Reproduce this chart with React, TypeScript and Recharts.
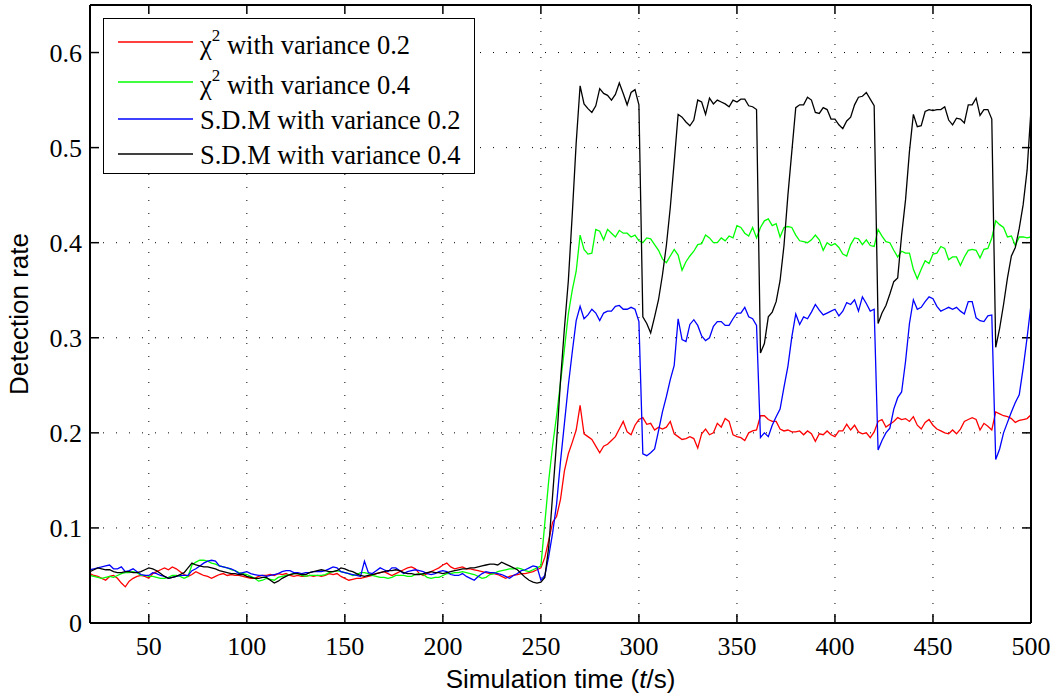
import React from 'react';
import { LineChart, Line, XAxis, YAxis, CartesianGrid, ReferenceLine } from 'recharts';

// time axis: samples every 2 s from 20 to 500
const times: number[] = Array.from({ length: 241 }, (_, i) => 20 + i * 2);

const xTicks = [50, 100, 150, 200, 250, 300, 350, 400, 450, 500];
const yTicks = [0, 0.1, 0.2, 0.3, 0.4, 0.5, 0.6];
const xDomain: [number, number] = [20, 500];
const yDomain: [number, number] = [0, 0.65];

const chiVar02 = [
  0.052, 0.050, 0.049, 0.047, 0.045, 0.049, 0.050, 0.047, 0.042, 0.038,
  0.044, 0.047, 0.049, 0.050, 0.049, 0.047, 0.052, 0.054, 0.056, 0.058,
  0.056, 0.059, 0.057, 0.054, 0.051, 0.049, 0.051, 0.054, 0.052, 0.050,
  0.049, 0.047, 0.049, 0.051, 0.052, 0.050, 0.051, 0.050, 0.050, 0.049,
  0.048, 0.047, 0.047, 0.049, 0.050, 0.050, 0.051, 0.050, 0.052, 0.051,
  0.052, 0.050, 0.049, 0.050, 0.049, 0.049, 0.050, 0.049, 0.050, 0.049,
  0.050, 0.052, 0.051, 0.052, 0.049, 0.047, 0.045, 0.046, 0.047, 0.047,
  0.048, 0.049, 0.050, 0.052, 0.053, 0.054, 0.052, 0.050, 0.052, 0.054,
  0.056, 0.058, 0.059, 0.057, 0.052, 0.050, 0.052, 0.054, 0.056, 0.058,
  0.061, 0.063, 0.059, 0.057, 0.058, 0.059, 0.057, 0.057, 0.056, 0.055,
  0.054, 0.053, 0.052, 0.052, 0.051, 0.049, 0.047, 0.049, 0.050, 0.051,
  0.052, 0.052, 0.053, 0.054, 0.056, 0.058, 0.069, 0.087, 0.106, 0.112,
  0.130, 0.160, 0.178, 0.190, 0.203, 0.229, 0.199, 0.196, 0.193, 0.186,
  0.179, 0.186, 0.188, 0.192, 0.196, 0.204, 0.212, 0.201, 0.198, 0.208,
  0.214, 0.216, 0.209, 0.210, 0.203, 0.206, 0.204, 0.206, 0.212, 0.199,
  0.196, 0.193, 0.194, 0.196, 0.194, 0.184, 0.199, 0.204, 0.198, 0.200,
  0.210, 0.206, 0.215, 0.212, 0.198, 0.196, 0.195, 0.192, 0.200, 0.202,
  0.203, 0.218, 0.218, 0.214, 0.212, 0.212, 0.204, 0.202, 0.203, 0.201,
  0.201, 0.202, 0.198, 0.202, 0.199, 0.191, 0.199, 0.198, 0.202, 0.198,
  0.196, 0.202, 0.202, 0.209, 0.203, 0.208, 0.201, 0.199, 0.200, 0.195,
  0.201, 0.212, 0.214, 0.206, 0.209, 0.212, 0.216, 0.214, 0.215, 0.212,
  0.217, 0.208, 0.204, 0.211, 0.214, 0.208, 0.204, 0.202, 0.200, 0.199,
  0.203, 0.199, 0.204, 0.212, 0.214, 0.216, 0.214, 0.203, 0.210, 0.207,
  0.203, 0.222, 0.220, 0.218, 0.217, 0.215, 0.211, 0.213, 0.214, 0.215,
  0.219,
];

const chiVar04 = [
  0.050, 0.049, 0.048, 0.047, 0.048, 0.049, 0.048, 0.050, 0.052, 0.053,
  0.053, 0.054, 0.053, 0.050, 0.050, 0.049, 0.049, 0.048, 0.047, 0.047,
  0.048, 0.050, 0.050, 0.049, 0.047, 0.049, 0.061, 0.064, 0.066, 0.066,
  0.065, 0.063, 0.062, 0.060, 0.059, 0.058, 0.056, 0.055, 0.053, 0.052,
  0.051, 0.049, 0.047, 0.044, 0.045, 0.047, 0.046, 0.045, 0.048, 0.049,
  0.050, 0.051, 0.052, 0.052, 0.050, 0.049, 0.050, 0.050, 0.050, 0.050,
  0.051, 0.053, 0.054, 0.055, 0.054, 0.053, 0.052, 0.050, 0.051, 0.053,
  0.053, 0.052, 0.050, 0.049, 0.048, 0.048, 0.047, 0.048, 0.050, 0.050,
  0.050, 0.049, 0.049, 0.051, 0.052, 0.051, 0.048, 0.047, 0.048, 0.048,
  0.050, 0.052, 0.052, 0.053, 0.053, 0.054, 0.053, 0.052, 0.051, 0.049,
  0.047, 0.048, 0.051, 0.052, 0.054, 0.055, 0.056, 0.057, 0.057, 0.058,
  0.057, 0.055, 0.054, 0.056, 0.058, 0.060, 0.105, 0.150, 0.187, 0.218,
  0.253, 0.288, 0.325, 0.350, 0.370, 0.408, 0.393, 0.388, 0.389, 0.414,
  0.412, 0.403, 0.414, 0.410, 0.406, 0.413, 0.410, 0.410, 0.406, 0.408,
  0.402, 0.400, 0.405, 0.404, 0.398, 0.392, 0.383, 0.379, 0.386, 0.393,
  0.387, 0.371, 0.380, 0.386, 0.391, 0.398, 0.399, 0.408, 0.405, 0.400,
  0.400, 0.405, 0.402, 0.407, 0.405, 0.418, 0.416, 0.410, 0.407, 0.416,
  0.405, 0.416, 0.423, 0.425, 0.418, 0.420, 0.406, 0.416, 0.417, 0.416,
  0.408, 0.402, 0.401, 0.400, 0.403, 0.408, 0.403, 0.392, 0.400, 0.397,
  0.399, 0.395, 0.388, 0.386, 0.398, 0.405, 0.404, 0.398, 0.403, 0.397,
  0.396, 0.414, 0.407, 0.401, 0.400, 0.392, 0.385, 0.391, 0.389, 0.389,
  0.372, 0.362, 0.372, 0.381, 0.378, 0.388, 0.389, 0.396, 0.394, 0.382,
  0.385, 0.385, 0.376, 0.385, 0.392, 0.393, 0.392, 0.384, 0.393, 0.394,
  0.405, 0.423, 0.419, 0.416, 0.406, 0.407, 0.397, 0.406, 0.406, 0.405,
  0.406,
];

const sdmVar02 = [
  0.056, 0.057, 0.058, 0.059, 0.060, 0.061, 0.057, 0.057, 0.059, 0.054,
  0.055, 0.057, 0.054, 0.051, 0.050, 0.050, 0.053, 0.052, 0.050, 0.049,
  0.047, 0.048, 0.049, 0.050, 0.050, 0.050, 0.055, 0.057, 0.060, 0.063,
  0.065, 0.066, 0.065, 0.060, 0.059, 0.058, 0.057, 0.055, 0.052, 0.053,
  0.054, 0.052, 0.051, 0.050, 0.050, 0.049, 0.050, 0.051, 0.052, 0.054,
  0.055, 0.055, 0.053, 0.053, 0.052, 0.053, 0.053, 0.054, 0.054, 0.054,
  0.055, 0.057, 0.059, 0.058, 0.054, 0.053, 0.052, 0.051, 0.050, 0.049,
  0.065, 0.053, 0.052, 0.055, 0.058, 0.056, 0.054, 0.058, 0.058, 0.055,
  0.052, 0.054, 0.055, 0.056, 0.055, 0.054, 0.052, 0.051, 0.052, 0.054,
  0.055, 0.054, 0.051, 0.050, 0.050, 0.052, 0.049, 0.047, 0.045, 0.049,
  0.052, 0.054, 0.053, 0.053, 0.052, 0.051, 0.049, 0.047, 0.050, 0.052,
  0.055, 0.056, 0.058, 0.060, 0.059, 0.045, 0.050, 0.070, 0.095, 0.125,
  0.170, 0.210, 0.250, 0.285, 0.318, 0.333, 0.320, 0.324, 0.330, 0.326,
  0.318, 0.326, 0.328, 0.328, 0.333, 0.334, 0.330, 0.330, 0.332, 0.330,
  0.317, 0.178, 0.176, 0.179, 0.183, 0.202, 0.222, 0.238, 0.256, 0.271,
  0.320, 0.298, 0.296, 0.314, 0.319, 0.313, 0.302, 0.297, 0.300, 0.312,
  0.317, 0.317, 0.313, 0.313, 0.320, 0.326, 0.326, 0.332, 0.322, 0.320,
  0.313, 0.195, 0.200, 0.196, 0.208, 0.217, 0.225, 0.248, 0.270, 0.301,
  0.325, 0.314, 0.322, 0.320, 0.327, 0.335, 0.329, 0.324, 0.326, 0.328,
  0.330, 0.323, 0.328, 0.337, 0.335, 0.340, 0.328, 0.343, 0.336, 0.328,
  0.330, 0.182, 0.192, 0.200, 0.205, 0.225, 0.237, 0.243, 0.275, 0.315,
  0.340, 0.330, 0.332, 0.338, 0.343, 0.341, 0.333, 0.328, 0.330, 0.332,
  0.330, 0.332, 0.328, 0.325, 0.338, 0.338, 0.321, 0.318, 0.317, 0.323,
  0.324, 0.172, 0.183, 0.200, 0.211, 0.222, 0.232, 0.240, 0.268, 0.300,
  0.335,
];

const sdmVar04 = [
  0.054, 0.056, 0.058, 0.057, 0.056, 0.056, 0.054, 0.053, 0.053, 0.054,
  0.054, 0.053, 0.053, 0.054, 0.056, 0.058, 0.057, 0.055, 0.052, 0.049,
  0.047, 0.048, 0.049, 0.051, 0.053, 0.058, 0.063, 0.061, 0.060, 0.059,
  0.059, 0.058, 0.057, 0.055, 0.054, 0.053, 0.052, 0.052, 0.051, 0.051,
  0.049, 0.048, 0.047, 0.047, 0.048, 0.048, 0.045, 0.042, 0.044, 0.047,
  0.049, 0.051, 0.052, 0.052, 0.051, 0.051, 0.053, 0.054, 0.055, 0.056,
  0.055, 0.054, 0.054, 0.055, 0.058, 0.057, 0.055, 0.054, 0.052, 0.050,
  0.049, 0.050, 0.051, 0.052, 0.053, 0.054, 0.055, 0.055, 0.056, 0.055,
  0.053, 0.052, 0.052, 0.051, 0.051, 0.052, 0.053, 0.054, 0.053, 0.053,
  0.052, 0.053, 0.054, 0.055, 0.056, 0.057, 0.057, 0.058, 0.058, 0.059,
  0.060, 0.061, 0.062, 0.062, 0.061, 0.064, 0.062, 0.060, 0.058, 0.056,
  0.052, 0.048, 0.045, 0.043, 0.042, 0.043, 0.048, 0.080, 0.135, 0.190,
  0.255, 0.310, 0.360, 0.430, 0.505, 0.565, 0.546, 0.541, 0.537, 0.544,
  0.562, 0.557, 0.555, 0.550, 0.556, 0.568, 0.557, 0.545, 0.558, 0.561,
  0.545, 0.322, 0.315, 0.305, 0.322, 0.340, 0.366, 0.397, 0.437, 0.485,
  0.535, 0.532, 0.527, 0.523, 0.529, 0.550, 0.548, 0.535, 0.552, 0.546,
  0.550, 0.548, 0.546, 0.543, 0.550, 0.548, 0.551, 0.551, 0.544, 0.543,
  0.540, 0.284, 0.294, 0.322, 0.327, 0.338, 0.360, 0.397, 0.450, 0.496,
  0.542, 0.545, 0.545, 0.553, 0.550, 0.537, 0.536, 0.542, 0.540, 0.530,
  0.530, 0.524, 0.520, 0.528, 0.532, 0.545, 0.553, 0.554, 0.558, 0.551,
  0.544, 0.315, 0.326, 0.334, 0.346, 0.359, 0.363, 0.408, 0.445, 0.496,
  0.535, 0.522, 0.523, 0.538, 0.540, 0.539, 0.540, 0.540, 0.543, 0.529,
  0.524, 0.531, 0.530, 0.526, 0.545, 0.545, 0.552, 0.534, 0.540, 0.540,
  0.530, 0.290, 0.310, 0.335, 0.363, 0.386, 0.395, 0.415, 0.440, 0.476,
  0.540,
];

const seriesNames = ['χ2 with variance 0.2', 'χ2 with variance 0.4', 'S.D.M with variance 0.2', 'S.D.M with variance 0.4'];
const seriesColors = ['#ff0000', '#00ff00', '#0000ff', '#000000'];
const seriesKeys = ['chi02', 'chi04', 'sdm02', 'sdm04'];

const data = times.map((t, i) => ({
  t,
  chi02: chiVar02[i],
  chi04: chiVar04[i],
  sdm02: sdmVar02[i],
  sdm04: sdmVar04[i],
}));

// inward tick length expressed in axis units (about 9 px each)
const xTickLen = 4.6;
const yTickLen = 0.0095;

const SERIF = '"Liberation Serif", "Times New Roman", serif';
const SANS = '"Liberation Sans", Arial, sans-serif';

const renderXTick = (props: any) => {
  const { x, y, payload } = props;
  return (
    <text x={x} y={y + 32} textAnchor="middle" fontFamily="Liberation Serif" style={{ fontFamily: SERIF, fontSize: 26 }} fill="#000">
      {String(payload.value)}
    </text>
  );
};

const renderYTick = (props: any) => {
  const { x, y, payload } = props;
  return (
    <text x={x - 8} y={y + 9} textAnchor="end" fontFamily="Liberation Serif" style={{ fontFamily: SERIF, fontSize: 26 }} fill="#000">
      {String(payload.value)}
    </text>
  );
};

const renderNoTick = () => <g />;

const XLabel = (props: any) => {
  const vb = props.viewBox || {};
  const cx = vb.x + vb.width / 2;
  const y = vb.y + 65;
  return (
    <text x={cx} y={y} textAnchor="middle" style={{ fontFamily: SANS, fontSize: 26 }} fill="#000">
      Simulation time (<tspan fontStyle="italic">t</tspan>/s)
    </text>
  );
};

const YLabel = (props: any) => {
  const vb = props.viewBox || {};
  const x = vb.x + 28;
  const y = vb.y + vb.height / 2;
  return (
    <text x={x} y={y} textAnchor="middle" transform={`rotate(-90, ${x}, ${y})`} style={{ fontFamily: SANS, fontSize: 26 }} fill="#000">
      Detection rate
    </text>
  );
};

const LegendBox = () => {
  const rows = [24, 64, 101, 136];
  return (
    <div
      style={{
        position: 'absolute',
        left: 103,
        top: 18,
        width: 372,
        height: 156,
        boxSizing: 'border-box',
        border: '1px solid #000',
        background: '#fff',
      }}
    >
      <svg width={370} height={154} style={{ display: 'block' }}>
        {seriesNames.map((name, i) => {
          const ly = rows[i] - 1;
          const isChi = name.startsWith('χ');
          const rest = isChi ? name.slice(2) : name;
          return (
            <g key={name}>
              <line x1={14} x2={89} y1={ly} y2={ly} stroke={seriesColors[i]} strokeWidth={1.3} />
              <text x={96} y={ly + (isChi ? 12 : 10)} style={{ fontFamily: SERIF, fontSize: 26.5 }} fill="#000">
                {isChi ? (
                  <>
                    <tspan>χ</tspan>
                    <tspan style={{ fontSize: 17 }} dy={-13}>2</tspan>
                    <tspan dy={13}>{rest}</tspan>
                  </>
                ) : (
                  rest
                )}
              </text>
            </g>
          );
        })}
      </svg>
    </div>
  );
};

const tickStyle = { stroke: '#000', strokeWidth: 1.5 };

export default function App() {
  return (
    <div style={{ position: 'absolute', left: 0, top: 0, width: 1054, height: 694, background: '#fff' }}>
      <LineChart width={1054} height={694} data={data} margin={{ top: 5, right: 23, bottom: 0, left: 0 }}>
        <CartesianGrid stroke="#000" strokeDasharray="1 12" strokeWidth={1} />
        <XAxis
          dataKey="t"
          type="number"
          domain={xDomain}
          ticks={xTicks}
          allowDataOverflow
          height={71}
          tickLine={false}
          tickSize={0}
          tickMargin={0}
          axisLine={{ stroke: '#000', strokeWidth: 2 }}
          tick={renderXTick}
          label={<XLabel />}
        />
        <YAxis
          type="number"
          domain={yDomain}
          ticks={yTicks}
          allowDataOverflow
          width={90}
          tickLine={false}
          tickSize={0}
          tickMargin={0}
          axisLine={{ stroke: '#000', strokeWidth: 2 }}
          tick={renderYTick}
          label={<YLabel />}
        />
        <XAxis
          xAxisId="top"
          dataKey="t"
          type="number"
          domain={xDomain}
          ticks={xTicks}
          allowDataOverflow
          orientation="top"
          mirror
          tick={renderNoTick}
          tickLine={false}
          axisLine={{ stroke: '#000', strokeWidth: 2 }}
        />
        <YAxis
          yAxisId="right"
          type="number"
          domain={yDomain}
          ticks={yTicks}
          allowDataOverflow
          orientation="right"
          mirror
          tick={renderNoTick}
          tickLine={false}
          axisLine={{ stroke: '#000', strokeWidth: 2 }}
        />
        {xTicks.map((v) => (
          <ReferenceLine
            key={`xb${v}`}
            segment={[{ x: v, y: yDomain[0] }, { x: v, y: yDomain[0] + yTickLen }]}
            {...tickStyle}
          />
        ))}
        {xTicks.map((v) => (
          <ReferenceLine
            key={`xt${v}`}
            segment={[{ x: v, y: yDomain[1] }, { x: v, y: yDomain[1] - yTickLen }]}
            {...tickStyle}
          />
        ))}
        {yTicks.map((v) => (
          <ReferenceLine
            key={`yl${v}`}
            segment={[{ x: xDomain[0], y: v }, { x: xDomain[0] + xTickLen, y: v }]}
            {...tickStyle}
          />
        ))}
        {yTicks.map((v) => (
          <ReferenceLine
            key={`yr${v}`}
            segment={[{ x: xDomain[1], y: v }, { x: xDomain[1] - xTickLen, y: v }]}
            {...tickStyle}
          />
        ))}
        {seriesKeys.map((k, i) => (
          <Line
            key={k}
            dataKey={k}
            name={seriesNames[i]}
            type="linear"
            stroke={seriesColors[i]}
            strokeWidth={1.3}
            dot={false}
            activeDot={false}
            isAnimationActive={false}
          />
        ))}
      </LineChart>
      <LegendBox />
    </div>
  );
}
